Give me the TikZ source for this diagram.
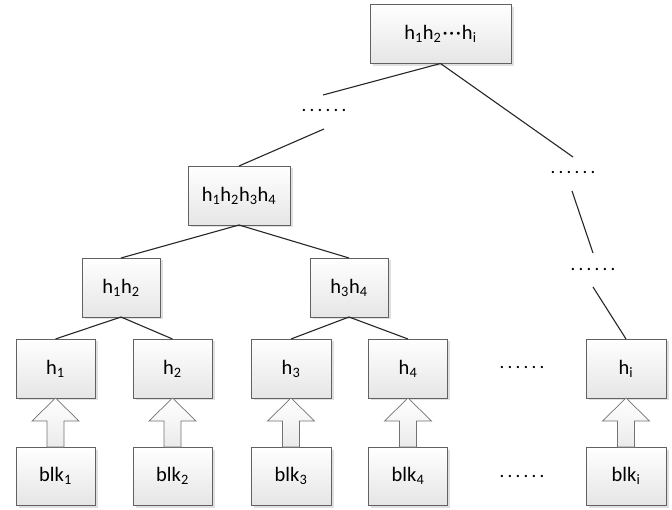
\documentclass[tikz,border=0pt]{standalone}
\usepackage{fontspec}
\setmainfont{Carlito}
\usetikzlibrary{shadows,calc}
\newcommand\sixdots{.\kern3.2pt.\kern3.2pt.\kern3.2pt.\kern3.2pt.\kern3.2pt.}
\newcommand\mdots{\kern1pt·\kern1.5pt·\kern1.5pt·\kern1pt}
\newcommand\sub[1]{\textsubscript{#1}}
\newcommand\blockup[2]{%
  \draw[arrbox] ($(#1.north)+(-8.5,0)$) -- ($(#2.south)+(-8.5,23)$) -- ($(#2.south)+(-23.5,23)$)
    -- (#2.south) -- ($(#2.south)+(23.5,23)$) -- ($(#2.south)+(8.5,23)$) -- ($(#1.north)+(8.5,0)$) -- cycle;}
\begin{document}
\begin{tikzpicture}[x=1pt,y=-1pt,
  hbox/.style={draw=black!62, line width=0.8pt, top color=white, bottom color=black!10,
    drop shadow={shadow xshift=2.5pt, shadow yshift=-2.5pt, fill=black!12, opacity=1},
    minimum height=59pt, inner sep=0pt, outer sep=0pt,
    font=\fontsize{20.5}{24}\selectfont},
  dotsnode/.style={inner sep=0pt, font=\fontsize{19}{22}\selectfont},
  arrbox/.style={draw=black!55, line width=0.7pt, top color=white, bottom color=black!8},
  link/.style={draw=black!85, line width=1.1pt}]
\useasboundingbox (0,0) rectangle (672,510);
% boxes
\node[hbox, minimum width=141pt] (top) at (440.5,34) {h\sub{1}h\sub{2}\mdots h\sub{i}};
\node[hbox, minimum width=102pt] (h1234) at (239,195.5) {h\sub{1}h\sub{2}h\sub{3}h\sub{4}};
\node[hbox, minimum width=78pt] (h12) at (121,287.5) {h\sub{1}h\sub{2}};
\node[hbox, minimum width=78pt] (h34) at (349,287.5) {h\sub{3}h\sub{4}};
\node[hbox, minimum width=79pt] (h1) at (55.5,368.5) {h\sub{1}};
\node[hbox, minimum width=79pt] (h2) at (172.5,368.5) {h\sub{2}};
\node[hbox, minimum width=80pt] (h3) at (291,368.5) {h\sub{3}};
\node[hbox, minimum width=79pt] (h4) at (408,368.5) {h\sub{4}};
\node[hbox, minimum width=80pt] (hi) at (626,368.5) {h\sub{i}};
\node[hbox, minimum width=79pt, minimum height=58pt] (b1) at (55.5,476) {blk\sub{1}};
\node[hbox, minimum width=79pt, minimum height=58pt] (b2) at (172.5,476) {blk\sub{2}};
\node[hbox, minimum width=80pt, minimum height=58pt] (b3) at (291,476) {blk\sub{3}};
\node[hbox, minimum width=79pt, minimum height=58pt] (b4) at (408,476) {blk\sub{4}};
\node[hbox, minimum width=80pt, minimum height=58pt] (bi) at (626,476) {blk\sub{i}};
% dots
\node[dotsnode] (d1) at (324,111) {\sixdots};
\node[dotsnode] (d2) at (573,173) {\sixdots};
\node[dotsnode] (d3) at (593,269) {\sixdots};
\node[dotsnode] (d4) at (522,367) {\sixdots};
\node[dotsnode] (d5) at (522,476) {\sixdots};
% free ends near dots
\coordinate (c1a) at (323,95);
\coordinate (c1b) at (324,129);
\coordinate (c2a) at (573,157);
\coordinate (c2b) at (572,191);
\coordinate (c3a) at (593,253);
\coordinate (c3b) at (593,287);
% tree links
\draw[link] (top.south) -- (c1a);
\draw[link] (c1b) -- (h1234.north);
\draw[link] (top.south) -- (c2a);
\draw[link] (c2b) -- (c3a);
\draw[link] (c3b) -- (hi.north);
\draw[link] (h1234.south) -- (h12.north);
\draw[link] (h1234.south) -- (h34.north);
\draw[link] (h12.south) -- (h1.north);
\draw[link] (h12.south) -- (h2.north);
\draw[link] (h34.south) -- (h3.north);
\draw[link] (h34.south) -- (h4.north);
% block arrows
\blockup{b1}{h1}
\blockup{b2}{h2}
\blockup{b3}{h3}
\blockup{b4}{h4}
\blockup{bi}{hi}
\end{tikzpicture}
\end{document}
